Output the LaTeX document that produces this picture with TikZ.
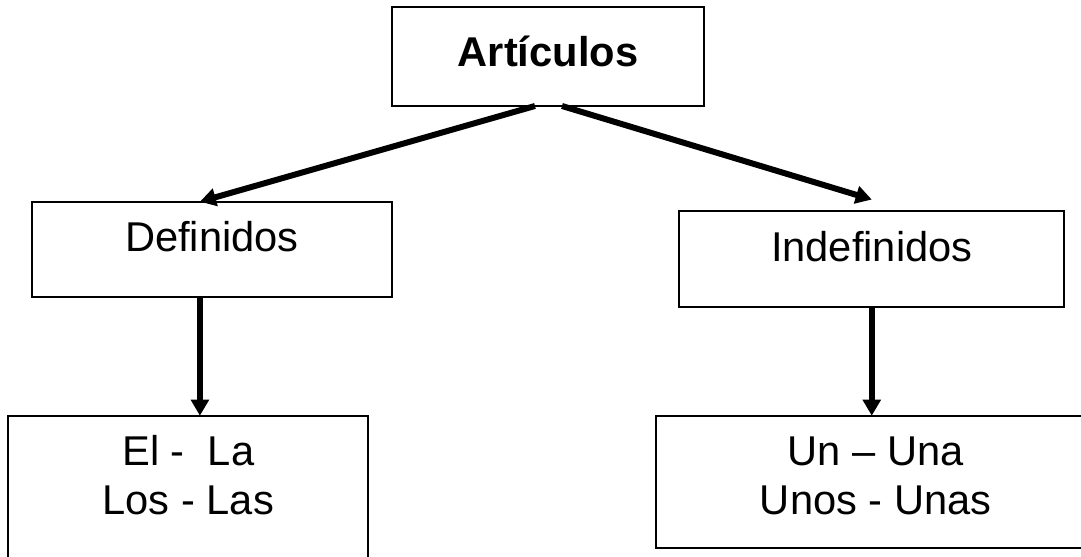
\documentclass[tikz,border=0pt]{standalone}
\usepackage{fontspec}
\setmainfont{Liberation Sans}
\usetikzlibrary{arrows.meta}

\begin{document}
\begin{tikzpicture}[x=0.02cm, y=-0.02cm,
  box/.style={draw, line width=1pt, inner sep=0pt, outer sep=0pt, anchor=north west, align=center, font=\fontsize{23.7pt}{27.9pt}\selectfont},
  arr/.style={line width=0.12cm, -{Triangle[length=0.32cm, width=0.35cm]}}]
\useasboundingbox (0,0) rectangle (1081,556);
\node[box, minimum width=6.24cm, text height=1.194cm, text depth=0.786cm] (art) at (392,7){\bfseries Artículos};
\node[box, minimum width=7.21cm, text height=1.0cm, text depth=0.912cm] (def) at (31.7,201.7){Definidos};
\node[box, minimum width=7.7cm, text height=1.0cm, text depth=0.926cm] (ind) at (679.3,211){Indefinidos};
\node[box, minimum width=7.2cm, text height=1.986cm, text depth=1.3cm] (defart) at (8.3,415.7){El -\ \ La\\Los - Las};
\node[box, minimum width=8.8cm, text height=1.986cm, text depth=0.666cm] (indart) at (655.7,415.7){Un – Una\\Unos - Unas};
\draw[arr] ([xshift=-0.26cm]art.south) -- ([xshift=-0.24cm]def.north);
\draw[arr] ([xshift=0.28cm]art.south) -- ([yshift=0.23cm]ind.north);
\draw[arr] ([xshift=-0.24cm]def.south) -- ([xshift=-0.24cm]def.south |- defart.north);
\draw[arr] (ind.south) -- (ind.south |- indart.north);
\end{tikzpicture}
\end{document}
